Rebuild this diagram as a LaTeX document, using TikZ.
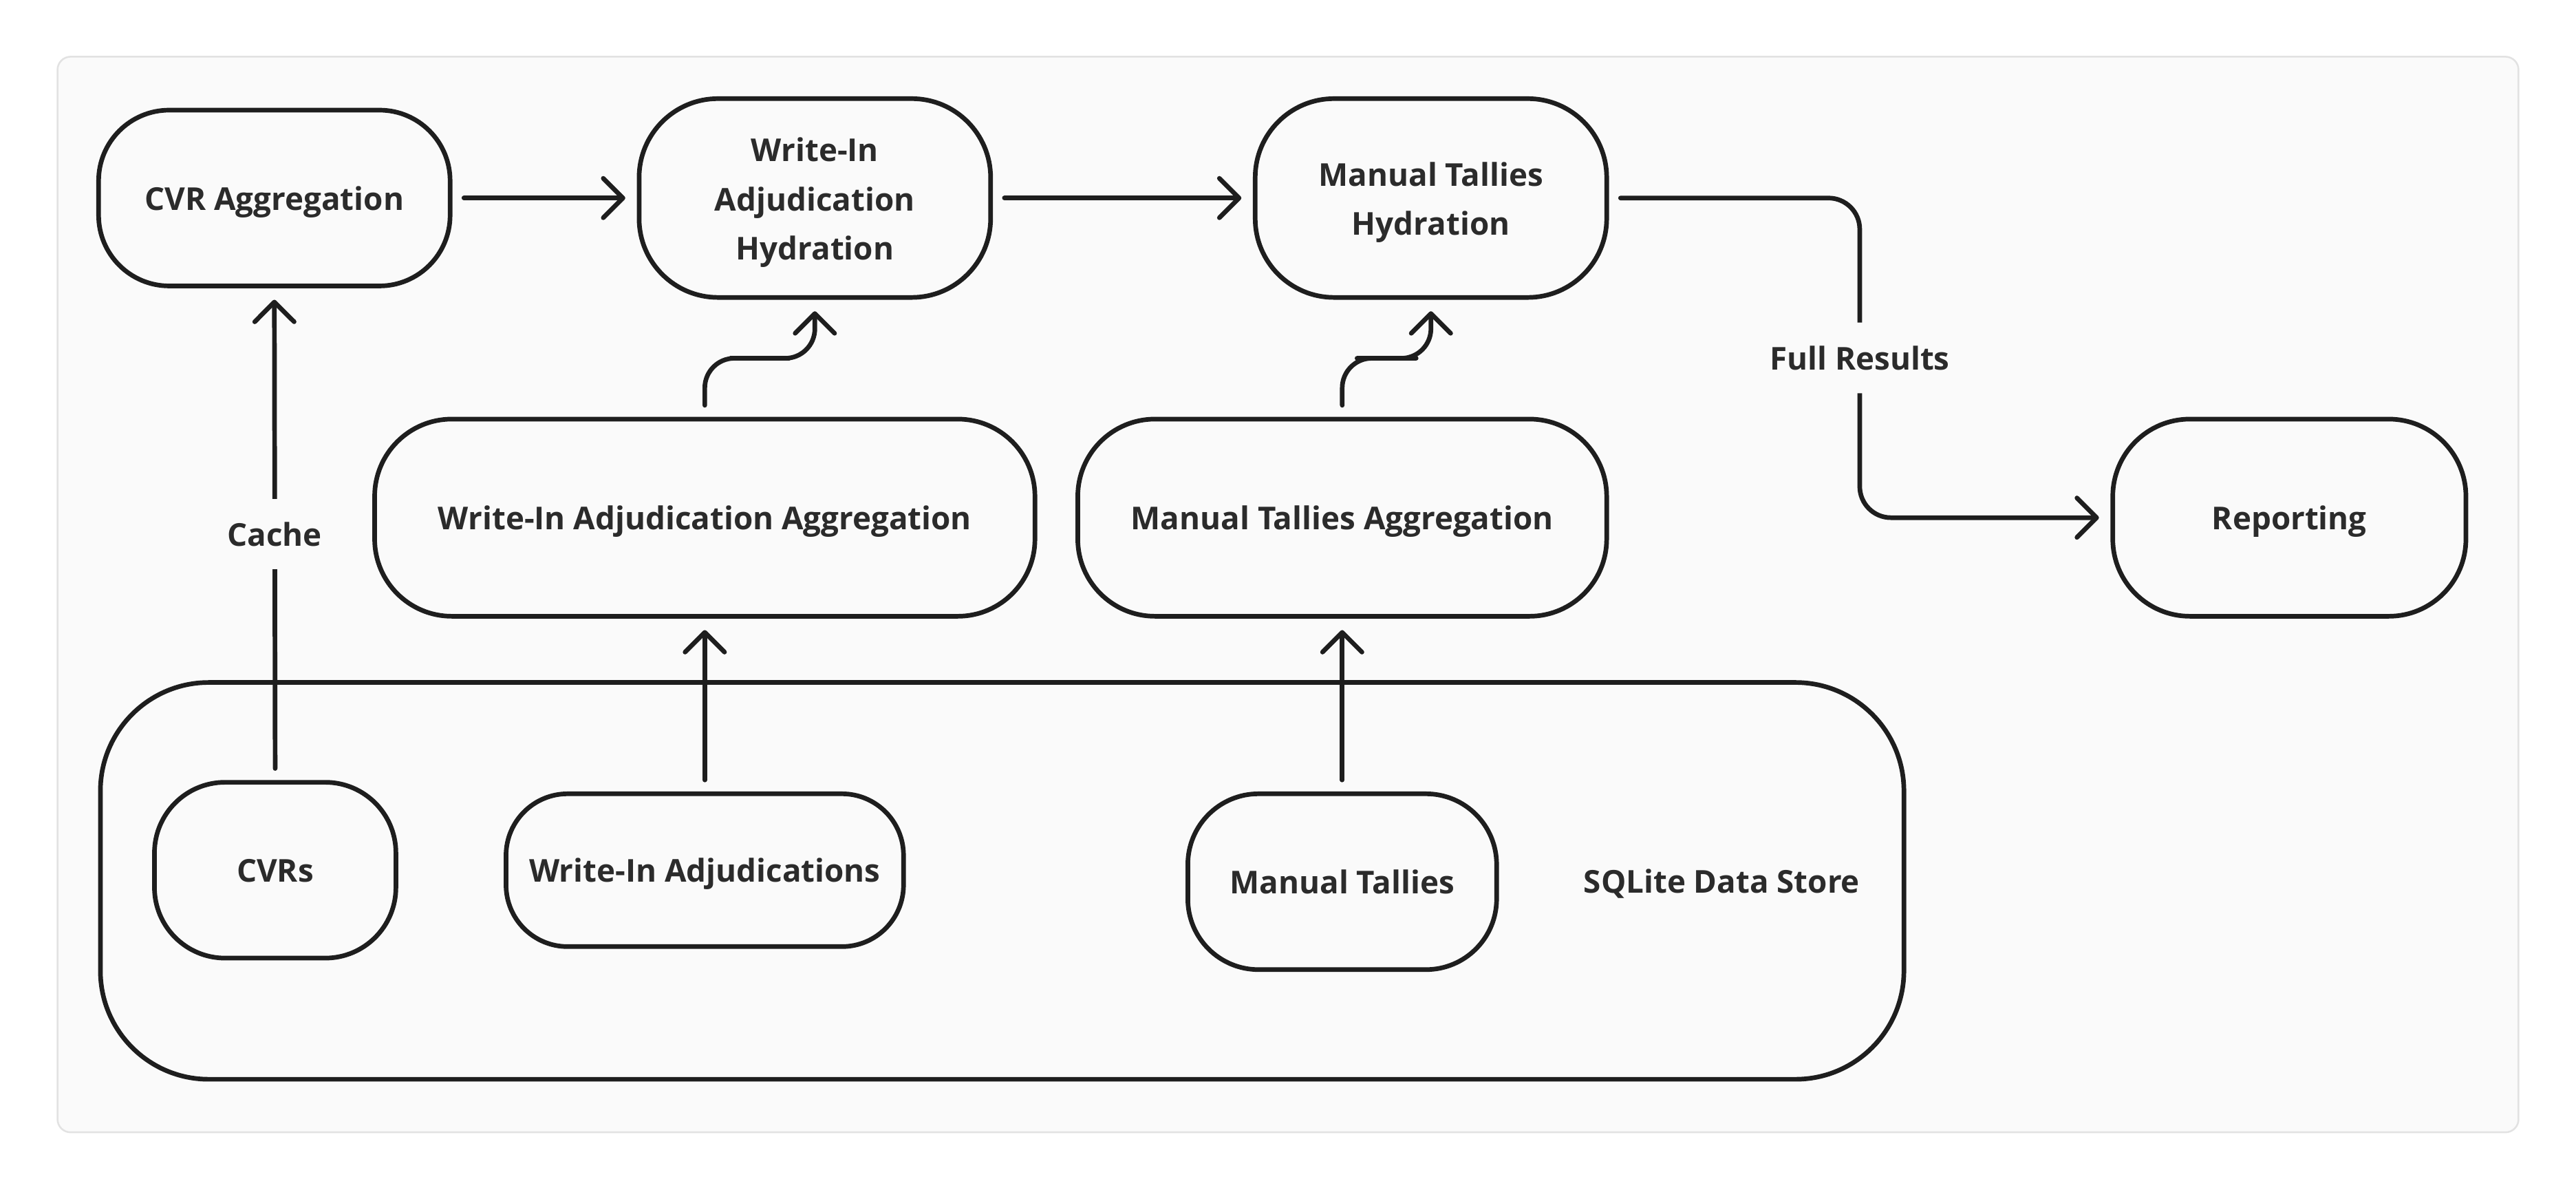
\documentclass[tikz,border=0pt]{standalone}
\usepackage{fontspec}
\setmainfont{Open Sans}
\usetikzlibrary{arrows.meta,calc}
\definecolor{ink}{HTML}{1E1E1E}
\definecolor{txt}{HTML}{2B2B2B}
\definecolor{panel}{HTML}{FAFAFA}
\definecolor{panelborder}{HTML}{E2E2E2}
\newcommand{\lnstrut}{\rule[-2.8pt]{0pt}{14pt}}
\newcommand{\firstline}{\rule{0pt}{11.6pt}}
\begin{document}
\begin{tikzpicture}[x=0.02cm,y=-0.02cm,
  txtfont/.style={text=txt, font=\fontsize{10.9}{17}\selectfont\bfseries,
    execute at begin node=\lnstrut, execute at end node=\lnstrut},
  box/.style={draw=ink, line width=1.6pt, fill=panel, txtfont, align=center, inner sep=0pt},
  conn/.style={draw=ink, line width=1.6pt, line cap=round, line join=round,
    shorten <=0.14cm, shorten >=0.14cm,
    -{Straight Barb[length=2.4mm,width=4.8mm,round]}},
  lbl/.style={fill=panel, txtfont, minimum height=0.86cm, inner xsep=2pt, inner ysep=0pt}]
\useasboundingbox (0,0) rectangle (1568,724);
\fill[white] (0,0) rectangle (1568,724);
\draw[panelborder, fill=panel, line width=0.6pt, rounded corners=0.16cm] (35,34.5) rectangle (1533,689);

% container
\node[draw=ink, line width=1.6pt, fill=panel, rounded corners=1.32cm, minimum width=21.96cm, minimum height=4.83cm] (store) at (610,536) {};
\node[txtfont] (storelbl) at (1048,536) {SQLite Data Store};

% nodes
\node[box, rounded corners=0.86cm, minimum width=4.28cm, minimum height=2.14cm] (cvragg) at (167,120.5) {CVR Aggregation};
\node[box, rounded corners=0.96cm, minimum width=4.28cm, minimum height=2.42cm] (wiahyd) at (496,120.5) {\firstline Write-In\\Adjudication\\Hydration};
\node[box, rounded corners=0.96cm, minimum width=4.28cm, minimum height=2.42cm] (mthyd) at (871,120.5) {\firstline Manual Tallies\\Hydration};
\node[box, rounded corners=0.94cm, minimum width=8.04cm, minimum height=2.40cm] (wiaagg) at (429,315) {Write-In Adjudication Aggregation};
\node[box, rounded corners=0.94cm, minimum width=6.44cm, minimum height=2.40cm] (mtagg) at (817,315) {Manual Tallies Aggregation};
\node[box, rounded corners=0.94cm, minimum width=4.30cm, minimum height=2.40cm] (report) at (1393.5,315) {Reporting};
\node[box, rounded corners=0.86cm, minimum width=2.94cm, minimum height=2.14cm] (cvrs) at (167.5,529.5) {CVRs};
\node[box, rounded corners=0.75cm, minimum width=4.84cm, minimum height=1.86cm] (wiadj) at (429,529.5) {Write-In Adjudications};
\node[box, rounded corners=0.86cm, minimum width=3.76cm, minimum height=2.14cm] (mt) at (817,536.5) {Manual Tallies};

% connectors
\draw[conn] (cvragg.east) -- (wiahyd.west);
\draw[conn] (wiahyd.east) -- (mthyd.west);
\draw[conn] (cvrs.north) -- node[lbl] {Cache} (cvragg.south);
\draw[conn] (wiadj.north) -- (wiaagg.south);
\draw[conn] (mt.north) -- (mtagg.south);
\coordinate (wmid) at ($(wiaagg.north)!0.5!(wiahyd.south)$);
\draw[conn, rounded corners=0.36cm] (wiaagg.north) |- (wmid) -| (wiahyd.south);
\coordinate (mmid) at ($(mtagg.north)!0.5!(mthyd.south)$);
\draw[conn, rounded corners=0.36cm] (mtagg.north) |- (mmid) -| (mthyd.south);
\coordinate (frx) at (1132,315);
\draw[conn, rounded corners=0.38cm] (mthyd.east) -| node[lbl, pos=0.75] {Full Results} (frx) -- (report.west);
\end{tikzpicture}
\end{document}
